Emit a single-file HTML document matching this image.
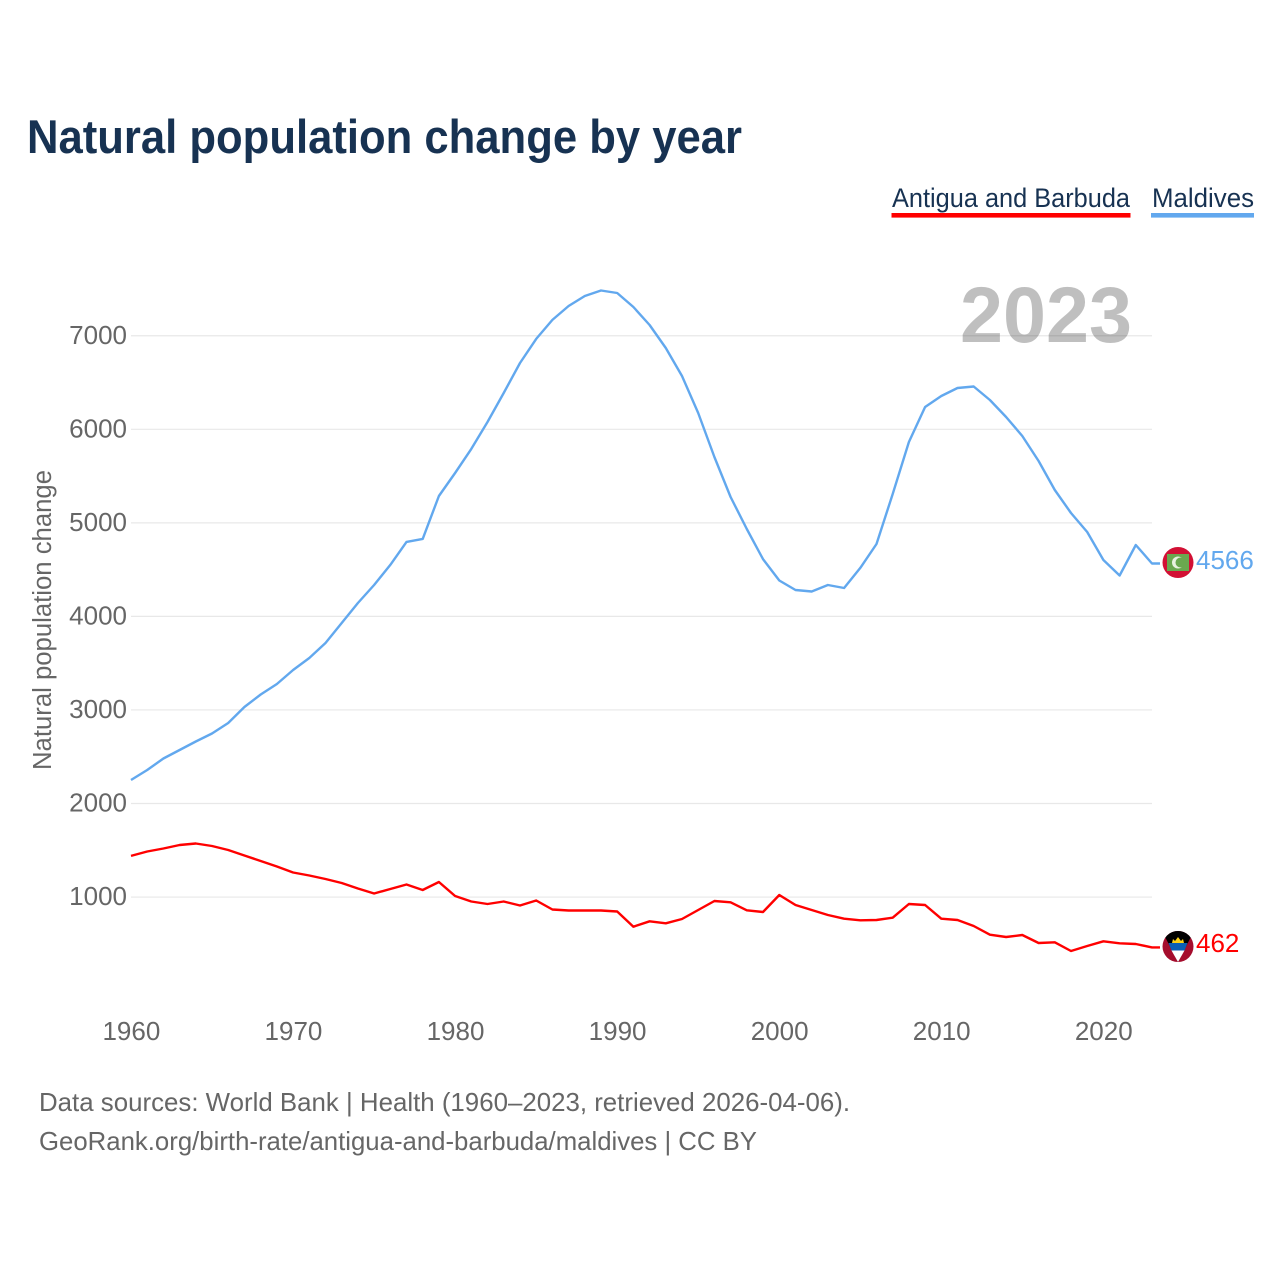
<!DOCTYPE html>
<html lang="en">
<head>
<meta charset="utf-8">
<title>Natural population change by year</title>
<style>
html,body{margin:0;padding:0;background:#fff;}
svg{display:block;font-family:"Liberation Sans",sans-serif;}
</style>
</head>
<body>
<svg id="chart" xmlns="http://www.w3.org/2000/svg" width="1280" height="1280" viewBox="0 0 1280 1280">
  <defs>
    <clipPath id="clip-mv"><circle cx="1178" cy="562.5" r="15.5"/></clipPath>
    <clipPath id="clip-ag"><circle cx="1178" cy="946.5" r="15.5"/></clipPath>
  </defs>
  <rect width="1280" height="1280" fill="#fff"/>
  <text x="27" y="153" font-size="47" font-weight="700" fill="#173252" textLength="715" lengthAdjust="spacingAndGlyphs">Natural population change by year</text>
  <g>
    <text x="892" y="207" font-size="26.5" fill="#173252" textLength="238" lengthAdjust="spacingAndGlyphs">Antigua and Barbuda</text>
    <rect x="891.5" y="213" width="239" height="4.6" fill="#ff0000"/>
  </g>
  <g>
    <text x="1152" y="207" font-size="26.5" fill="#173252" textLength="102" lengthAdjust="spacingAndGlyphs">Maldives</text>
    <rect x="1151" y="213" width="103" height="4.6" fill="#62a8ee"/>
  </g>
  <g id="grid"></g>
  <g id="y-ticks"></g>
  <g id="x-ticks"></g>
  <text x="960" y="342" font-size="79" font-weight="700" fill="#000" fill-opacity="0.25" textLength="172" lengthAdjust="spacingAndGlyphs">2023</text>
  <text transform="translate(51,770) rotate(-90)" font-size="25.5" fill="#666" textLength="300" lengthAdjust="spacingAndGlyphs">Natural population change</text>
  <g id="series"></g>
  <g clip-path="url(#clip-mv)">
    <rect x="1162" y="546" width="32" height="33" fill="#d21034"/>
    <rect x="1167" y="554" width="22" height="17" fill="#6aa84f"/>
    <circle cx="1178" cy="562.5" r="6" fill="#e8f2e0"/>
    <circle cx="1180.5" cy="562.5" r="5" fill="#6aa84f"/>
  </g>
  <g clip-path="url(#clip-ag)">
    <rect x="1162" y="931" width="32" height="32" fill="#a50d2d"/>
    <polygon points="1162,931 1194,931 1178,962" fill="#000"/>
    <polygon points="1172,943 1173,939 1175,941 1178,937 1181,941 1183,939 1184,943" fill="#fcd116"/>
    <polygon points="1168.5,943 1187.5,943 1184.5,950.5 1171.5,950.5" fill="#0b5fb5"/>
    <polygon points="1171.5,950.5 1184.5,950.5 1178,962" fill="#fff"/>
  </g>
  <text id="value-mv" x="1196" y="569" font-size="26" fill="#62a8ee"></text>
  <text id="value-ag" x="1196" y="952" font-size="26" fill="#ff0000"></text>
  <text x="39" y="1111" font-size="26" fill="#666" textLength="811" lengthAdjust="spacingAndGlyphs">Data sources: World Bank | Health (1960–2023, retrieved 2026-04-06).</text>
  <text x="39" y="1150" font-size="26" fill="#666" textLength="718" lengthAdjust="spacingAndGlyphs">GeoRank.org/birth-rate/antigua-and-barbuda/maldives | CC BY</text>
</svg>
<script>
const startYear = 1960;
const yTickValues = [1000, 2000, 3000, 4000, 5000, 6000, 7000];
const xTickValues = [1960, 1970, 1980, 1990, 2000, 2010, 2020];
const maldivesValues = [2251,2358,2481,2572,2663,2748,2861,3032,3165,3277,3427,3555,3716,3929,4143,4336,4550,4796,4828,5287,5533,5790,6078,6388,6709,6966,7169,7318,7425,7484,7457,7307,7115,6869,6570,6174,5704,5276,4934,4613,4384,4282,4266,4336,4304,4518,4774,5308,5864,6238,6356,6441,6457,6313,6132,5928,5661,5351,5105,4902,4603,4437,4763,4566];
const antiguaValues = [1440,1487,1519,1556,1572,1546,1503,1444,1385,1327,1262,1230,1193,1150,1091,1038,1086,1134,1075,1161,1011,952,926,952,910,963,867,856,856,856,846,683,741,719,765,862,958,944,858,840,1022,915,862,808,769,751,755,779,926,915,769,755,691,598,573,594,509,516,423,477,527,506,498,462];

const NS = 'http://www.w3.org/2000/svg';
const plotLeft = 131, plotRight = 1152;
const xScale = year => plotLeft + (year - 1960) * (plotRight - plotLeft) / 63;
const yScale = value => 990.6 - value * 0.09355;

function make(tag, attrs, parent) {
  const el = document.createElementNS(NS, tag);
  for (const key in attrs) el.setAttribute(key, attrs[key]);
  parent.appendChild(el);
  return el;
}

const gridGroup = document.getElementById('grid');
const yGroup = document.getElementById('y-ticks');
const xGroup = document.getElementById('x-ticks');
const seriesGroup = document.getElementById('series');

yTickValues.forEach(v => {
  const line = make('line', {x1: plotLeft, x2: plotRight, y1: yScale(v), y2: yScale(v), stroke: '#e8e8e8', 'stroke-width': 1.2}, gridGroup);
  
  
  const label = make('text', {x: 127, y: yScale(v) + 8, 'text-anchor': 'end', 'font-size': 26, fill: '#666'}, yGroup);
  
  
  label.textContent = v;
});

xTickValues.forEach(y => {
  const label = make('text', {x: xScale(y) + 0.4, y: 1040, 'text-anchor': 'middle', 'font-size': 26, fill: '#666'}, xGroup);
  
  
  label.textContent = y;
});

function drawSeries(values, color) {
  const pts = values.map((v, i) => xScale(startYear + i).toFixed(1) + ',' + yScale(v).toFixed(1));
  const last = yScale(values[values.length - 1]).toFixed(1);
  pts.push('1160,' + last);
  return make('polyline', {points: pts.join(' '), fill: 'none', stroke: color, 'stroke-width': 2.4, 'stroke-linejoin': 'round'}, seriesGroup);
}

const maldivesLine = drawSeries(maldivesValues, '#62a8ee');


const antiguaLine = drawSeries(antiguaValues, '#ff0000');



document.getElementById('value-mv').textContent = maldivesValues[maldivesValues.length - 1];
document.getElementById('value-ag').textContent = antiguaValues[antiguaValues.length - 1];
</script>
</body>
</html>
